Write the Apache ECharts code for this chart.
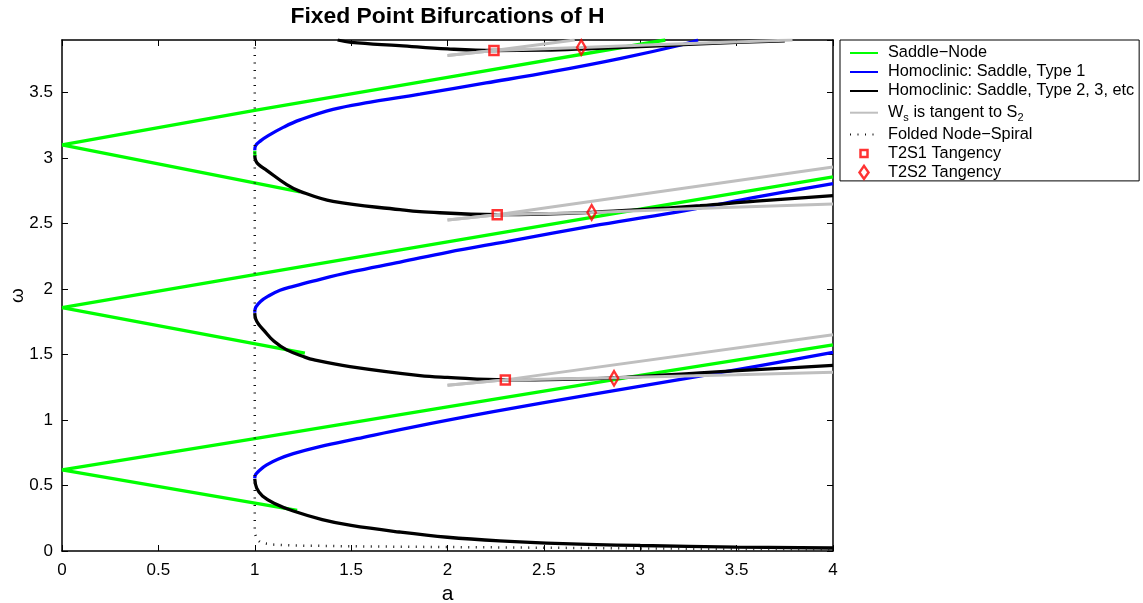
<!DOCTYPE html>
<html><head><meta charset="utf-8">
<script src="https://cdn.jsdelivr.net/npm/echarts@6/dist/echarts.min.js"></script>
<style>html,body{margin:0;padding:0;background:#fff}#c{width:1143px;height:603px}</style>
</head><body><div id="c"></div>
<script>
// ---- data (a, omega) ----
const xTickInterval = 0.5;
const xRange = [0, 4];
const yRange = [0, 3.9];

// Saddle-Node curves
const snUpper1 = [[0,0.619],[1,0.857],[2,1.1],[3,1.34],[4,1.574]];
const snLower1 = [[0,0.619],[1.22,0.31]];
const snUpper2 = [[0,1.858],[1,2.11],[2,2.36],[3,2.61],[4,2.855]];
const snLower2 = [[0,1.858],[1.26,1.51]];
const snUpper3 = [[0,3.10],[1,3.362],[2,3.615],[3.13,3.9]];
const snLower3 = [[0,3.10],[1.235,2.74]];
const snJoin3  = [[1,3.055],[1.001,3.015]];

// Homoclinic: Saddle, Type 1
const hom1a = [[1,0.555],[1.005,0.585],[1.027,0.619],[1.062,0.657],[1.12,0.7],[1.2,0.743],[1.338,0.797],[1.53,0.857],[1.8,0.94],[2.238,1.063],[2.75,1.195],[3.24,1.317],[3.6,1.41],[4,1.515]];
const hom1b = [[1,1.818],[1.005,1.86],[1.03,1.905],[1.07,1.945],[1.131,1.99],[1.2,2.02],[1.302,2.06],[1.5,2.13],[1.754,2.205],[2,2.28],[2.3,2.36],[2.79,2.49],[3.24,2.6],[3.6,2.7],[4,2.804]];
const hom1c = [[1,3.058],[1.005,3.095],[1.03,3.13],[1.07,3.17],[1.15,3.235],[1.235,3.29],[1.406,3.37],[1.6,3.425],[1.754,3.462],[1.857,3.487],[2.2,3.572],[2.549,3.66],[2.9,3.76],[3.206,3.86],[3.3,3.9]];

// Homoclinic: Saddle, Type 2, 3, etc
const hom2a = [[1,0.55],[1.01,0.48],[1.04,0.42],[1.1,0.365],[1.2,0.305],[1.35,0.24],[1.5,0.195],[1.75,0.145],[2,0.105],[2.27,0.078],[2.6,0.057],[3,0.042],[3.5,0.03],[4,0.023]];
const hom2b = [[1,1.816],[1.005,1.77],[1.02,1.73],[1.045,1.688],[1.1,1.6],[1.166,1.535],[1.26,1.48],[1.304,1.46],[1.494,1.408],[1.857,1.339],[2,1.325],[2.3,1.306],[2.6,1.31],[2.864,1.322],[3.31,1.36],[3.7,1.392],[4,1.416]];
const hom2c = [[1,3.02],[1.005,2.98],[1.02,2.95],[1.062,2.905],[1.166,2.796],[1.235,2.745],[1.406,2.668],[1.754,2.605],[1.857,2.59],[2.257,2.567],[2.5,2.572],[2.75,2.585],[3,2.605],[3.31,2.635],[3.6,2.67],[4,2.712]];
const hom2d = [[1.43,3.9],[1.5,3.882],[1.75,3.857],[2,3.832],[2.241,3.82],[2.5,3.822],[2.75,3.835],[3,3.85],[3.25,3.866],[3.5,3.882],[3.75,3.893]];

// W_s is tangent to S_2
const ws1a = [[2,1.265],[2.3,1.306],[4,1.65]];
const ws1b = [[2,1.265],[2.3,1.306],[2.864,1.322],[3.5,1.345],[4,1.365]];
const ws2a = [[2,2.527],[2.258,2.567],[4,2.931]];
const ws2b = [[2,2.527],[2.258,2.567],[2.748,2.584],[3.4,2.62],[4,2.649]];
const ws3a = [[2,3.781],[2.241,3.82],[2.66,3.9]];
const ws3b = [[2,3.781],[2.241,3.82],[2.694,3.843],[3.07,3.863],[3.79,3.9]];

// Folded Node-Spiral
const fold = [[1,3.9],[1,0.14],[1.01,0.09],[1.03,0.065],[1.08,0.05],[1.2,0.042],[1.5,0.036],[2,0.03],[2.5,0.025],[3,0.02],[3.5,0.016],[4,0.013]];

// Tangency points
const t2s1 = [[2.30,1.306],[2.258,2.567],[2.241,3.82]];
const t2s2 = [[2.864,1.318],[2.748,2.584],[2.694,3.843]];

const legendNames = ['Saddle\u2212Node','Homoclinic: Saddle, Type 1','Homoclinic: Saddle, Type 2, 3, etc','Ws is tangent to S2','Folded Node\u2212Spiral','T2S1 Tangency','T2S2 Tangency'];

// ---- chart ----
const FONT = '"Liberation Sans", Arial, Helvetica, sans-serif';
const GREEN = '#00ff00', BLUE = '#0000ff', BLACK = '#000000', GRAY = '#bfbfbf', RED = '#ff0000';
const LW = 3.3;

function ln(name, data, color, width, z, smooth, extra) {
  return Object.assign({
    type: 'line', name: name, data: data, symbol: 'none', showSymbol: false,
    smooth: smooth,
    lineStyle: { color: color, width: width }, itemStyle: { color: color },
    silent: true, animation: false, z: z, clip: true
  }, extra || {});
}

const series = [];
[snUpper1, snLower1, snUpper2, snLower2, snUpper3, snLower3, snJoin3].forEach(d => series.push(ln(legendNames[0], d, GREEN, LW, 2, false)));
[hom1a, hom1b, hom1c].forEach(d => series.push(ln(legendNames[1], d, BLUE, LW, 3, 0.4)));
[hom2a, hom2b, hom2c, hom2d].forEach(d => series.push(ln(legendNames[2], d, BLACK, LW, 4, 0.4)));
[ws1a, ws1b, ws2a, ws2b, ws3a, ws3b].forEach(d => series.push(ln(legendNames[3], d, GRAY, 3, 5, false)));
series.push(ln(legendNames[4], fold, '#111', 2.5, 6, false,
  { lineStyle: { color: '#111', width: 2.5, type: [1, 6.5], cap: 'butt' } }));
series.push({ type: 'scatter', name: legendNames[5], data: t2s1, symbol: 'rect', symbolSize: 9,
  itemStyle: { color: 'rgba(0,0,0,0)', borderColor: RED, borderWidth: 2.5 }, z: 7, silent: true, animation: false });
series.push({ type: 'scatter', name: legendNames[6], data: t2s2, symbol: 'diamond', symbolSize: [8.5, 14.5],
  itemStyle: { color: 'rgba(0,0,0,0)', borderColor: RED, borderWidth: 2.5 }, z: 7, silent: true, animation: false });

function axisBase(range) {
  return {
    type: 'value', min: range[0], max: range[1], interval: xTickInterval,
    axisLine: { show: true, onZero: false, lineStyle: { color: '#000', width: 1.5 } },
    axisTick: { show: true, inside: true, length: 6, lineStyle: { color: '#000', width: 1 } },
    splitLine: { show: false }
  };
}

const labelStyle = { fontFamily: FONT, fontSize: 17, color: '#000' };
const lineLegendStyle = { itemStyle: { opacity: 0 } };

const option = {
  backgroundColor: '#fff',
  animation: false,
  title: {
    text: 'Fixed Point Bifurcations of H', left: 447.5, top: 5, textAlign: 'center', padding: 0,
    textStyle: { fontFamily: FONT, fontSize: 22.9, fontWeight: 'bold', color: '#000' }
  },
  grid: { left: 62, right: 310, top: 40, bottom: 52, containLabel: false, outerBoundsMode: 'none' },
  xAxis: [
    Object.assign(axisBase(xRange), { position: 'bottom',
      axisLabel: Object.assign({ margin: 11 }, labelStyle),
      name: 'a', nameLocation: 'middle', nameGap: 30,
      nameTextStyle: { fontFamily: FONT, fontSize: 21, color: '#000' } }),
    Object.assign(axisBase(xRange), { position: 'top', axisLabel: { show: false } })
  ],
  yAxis: [
    Object.assign(axisBase(yRange), { position: 'left',
      axisLabel: Object.assign({ margin: 9, showMaxLabel: false }, labelStyle),
      name: '\u03c9', nameLocation: 'middle', nameGap: 35, nameRotate: 90, nameMoveOverlap: false,
      nameTextStyle: { fontFamily: FONT, fontSize: 19, color: '#000' } }),
    Object.assign(axisBase(yRange), { position: 'right', axisLabel: { show: false } })
  ],
  legend: {
    orient: 'vertical', left: 840, top: 40, itemWidth: 28, itemHeight: 14, itemGap: 2,
    padding: [4.5, 5, 0, 9], backgroundColor: '#fff', borderColor: '#000', borderWidth: 1, borderRadius: 0,
    selectedMode: false,
    textStyle: { fontFamily: FONT, fontSize: 16.3, lineHeight: 17, color: '#000', padding: [0, 0, 0, 5],
      rich: {
        n: { fontFamily: FONT, fontSize: 16.3, lineHeight: 17, color: '#000', verticalAlign: 'top' },
        s: { fontFamily: FONT, fontSize: 11, lineHeight: 11, color: '#000', padding: [11.4, 0, 0, 0] }
      } },
    formatter: function (name) {
      return name === legendNames[3] ? '{n|W}{s|s}{n| is tangent to S}{s|2}' : name;
    },
    data: [
      Object.assign({ name: legendNames[0] }, lineLegendStyle),
      Object.assign({ name: legendNames[1] }, lineLegendStyle),
      Object.assign({ name: legendNames[2] }, lineLegendStyle),
      Object.assign({ name: legendNames[3] }, lineLegendStyle),
      Object.assign({ name: legendNames[4] }, lineLegendStyle),
      { name: legendNames[5], icon: 'path://M0,0M14,14M3.5,3.5L10.5,3.5L10.5,10.5L3.5,10.5Z',
        itemStyle: { color: 'rgba(0,0,0,0)', borderColor: RED, borderWidth: 2.5 } },
      { name: legendNames[6], icon: 'path://M0,0M14,14M7,0.5L11.5,7L7,13.5L2.5,7Z',
        itemStyle: { color: 'rgba(0,0,0,0)', borderColor: RED, borderWidth: 2.5 } }
    ]
  },
  series: series
};

const chart = echarts.init(document.getElementById('c'), null, { renderer: 'canvas' });
chart.setOption(option);
</script>
</body></html>
